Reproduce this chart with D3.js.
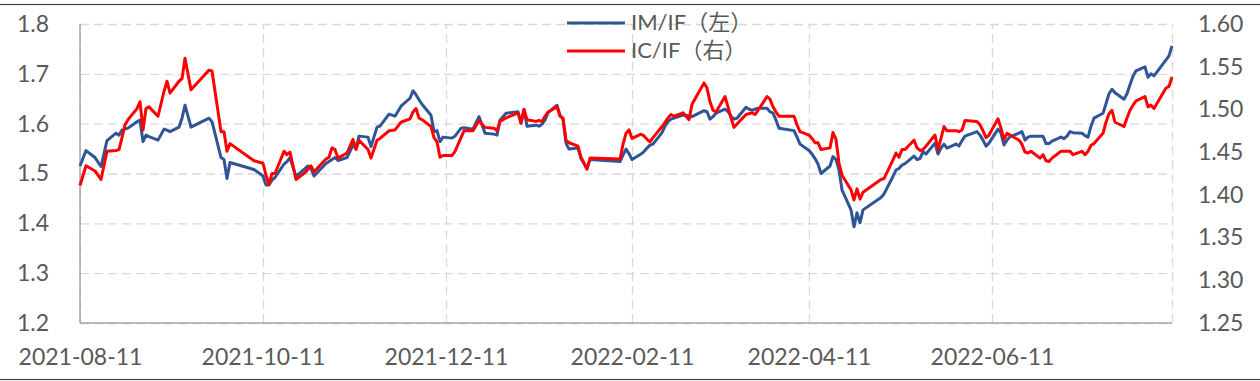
<!DOCTYPE html>
<html>
<head>
<meta charset="utf-8">
<script src="https://cdn.jsdelivr.net/npm/d3@7"></script>
<style>
  body { margin: 0; background: #fff; }
  svg { display: block; }
  .tick text { font-family: Lato, "Noto Sans", sans-serif; font-size: 23px; fill: #595959; }
  .legend text { font-family: Lato, "Noto Sans CJK SC", sans-serif; font-size: 22px; fill: #595959; }
</style>
</head>
<body>
<script>
// trading dates
var dates = [
  "2021-08-11","2021-08-13","2021-08-16","2021-08-18","2021-08-20","2021-08-23","2021-08-24","2021-08-25","2021-08-26","2021-08-27","2021-08-30","2021-08-31",
  "2021-09-01","2021-09-02","2021-09-03","2021-09-06","2021-09-08","2021-09-09","2021-09-10","2021-09-13","2021-09-14","2021-09-15","2021-09-17","2021-09-23","2021-09-24","2021-09-27","2021-09-28","2021-09-29","2021-09-30",
  "2021-10-08","2021-10-11","2021-10-12","2021-10-13","2021-10-14","2021-10-15","2021-10-18","2021-10-19","2021-10-20","2021-10-22","2021-10-25","2021-10-26","2021-10-27","2021-10-28",
  "2021-11-01","2021-11-02","2021-11-03","2021-11-04","2021-11-05","2021-11-08","2021-11-10","2021-11-11","2021-11-12","2021-11-15","2021-11-16","2021-11-18","2021-11-19","2021-11-22","2021-11-24","2021-11-26","2021-11-29","2021-11-30",
  "2021-12-01","2021-12-02","2021-12-03","2021-12-06","2021-12-07","2021-12-08","2021-12-09","2021-12-10","2021-12-13","2021-12-14","2021-12-16","2021-12-17","2021-12-20","2021-12-22","2021-12-24","2021-12-27","2021-12-28","2021-12-29","2021-12-31",
  "2022-01-04","2022-01-05","2022-01-06","2022-01-07","2022-01-10","2022-01-11","2022-01-12","2022-01-13","2022-01-14","2022-01-17","2022-01-18","2022-01-19","2022-01-20","2022-01-21","2022-01-24","2022-01-25","2022-01-26","2022-01-27","2022-01-28",
  "2022-02-07","2022-02-08","2022-02-09","2022-02-10","2022-02-11","2022-02-14","2022-02-15","2022-02-16","2022-02-17","2022-02-18","2022-02-21","2022-02-22","2022-02-23","2022-02-24","2022-02-25","2022-02-28",
  "2022-03-01","2022-03-02","2022-03-03","2022-03-07","2022-03-08","2022-03-09","2022-03-10","2022-03-11","2022-03-14","2022-03-15","2022-03-16","2022-03-17","2022-03-18","2022-03-21","2022-03-22","2022-03-23","2022-03-24","2022-03-25","2022-03-28","2022-03-29","2022-03-30","2022-03-31",
  "2022-04-01","2022-04-06","2022-04-07","2022-04-08","2022-04-11","2022-04-12","2022-04-13","2022-04-14","2022-04-15","2022-04-18","2022-04-19","2022-04-20","2022-04-21","2022-04-22","2022-04-25","2022-04-26","2022-04-27","2022-04-28","2022-04-29",
  "2022-05-05","2022-05-06","2022-05-09","2022-05-10","2022-05-11","2022-05-12","2022-05-13","2022-05-16","2022-05-17","2022-05-18","2022-05-19","2022-05-20","2022-05-23","2022-05-24","2022-05-25","2022-05-26","2022-05-27","2022-05-30","2022-05-31",
  "2022-06-01","2022-06-02","2022-06-06","2022-06-07","2022-06-08","2022-06-09","2022-06-10","2022-06-13","2022-06-14","2022-06-15","2022-06-16","2022-06-17","2022-06-20","2022-06-21","2022-06-22","2022-06-23","2022-06-24","2022-06-27","2022-06-28","2022-06-29","2022-06-30",
  "2022-07-01","2022-07-04","2022-07-05","2022-07-06","2022-07-07","2022-07-08","2022-07-11","2022-07-12","2022-07-13","2022-07-14","2022-07-15","2022-07-18","2022-07-19","2022-07-20","2022-07-21","2022-07-22","2022-07-25","2022-07-26","2022-07-27","2022-07-28","2022-07-29",
  "2022-08-01","2022-08-02","2022-08-03","2022-08-04","2022-08-08","2022-08-09","2022-08-10"
];

// IM/IF ratio, left axis
var imif = [
  1.515,1.546,1.532,1.514,1.566,1.581,1.577,1.587,1.589,1.591,1.604,1.607,
  1.564,1.577,1.574,1.567,1.589,1.587,1.584,1.593,1.611,1.637,1.593,1.611,1.604,1.532,1.528,1.490,1.522,
  1.508,1.495,1.477,1.477,1.487,1.492,1.519,1.524,1.532,1.494,1.510,1.515,1.510,1.495,
  1.520,1.524,1.528,1.532,1.526,1.532,1.557,1.551,1.575,1.573,1.554,1.593,1.595,1.619,1.615,1.635,1.651,1.666,
  1.658,1.648,1.639,1.617,1.584,1.586,1.564,1.573,1.571,1.575,1.591,1.592,1.589,1.614,1.581,1.579,1.577,1.607,1.621,
  1.624,1.601,1.629,1.595,1.597,1.595,1.599,1.607,1.622,1.637,1.617,1.609,1.561,1.549,1.551,1.530,1.520,1.510,1.528,
  1.524,1.537,1.549,1.540,1.528,1.539,1.544,1.551,1.557,1.559,1.582,1.595,1.604,1.609,1.611,1.617,
  1.617,1.615,1.614,1.626,1.624,1.609,1.614,1.621,1.629,1.624,1.615,1.609,1.611,1.633,1.629,1.627,1.629,1.631,1.631,1.624,1.621,1.607,
  1.591,1.586,1.573,1.559,1.546,1.539,1.530,1.519,1.500,1.515,1.534,1.528,1.507,1.467,1.427,1.393,1.421,1.401,1.427,
  1.452,1.459,1.494,1.507,1.510,1.517,1.520,1.535,1.528,1.530,1.544,1.539,1.561,1.539,1.551,1.559,1.551,1.559,1.555,
  1.566,1.575,1.584,1.577,1.567,1.555,1.561,1.589,1.581,1.557,1.567,1.574,1.581,1.584,1.567,1.573,1.575,1.575,1.575,1.560,1.560,
  1.565,1.573,1.570,1.575,1.584,1.582,1.581,1.576,1.573,1.595,1.611,1.621,1.640,1.660,1.669,1.662,1.649,1.660,1.678,1.695,1.706,
  1.714,1.693,1.700,1.696,1.728,1.736,1.756
];

// IC/IF ratio, right axis
var icif = [
  1.411,1.434,1.428,1.418,1.451,1.452,1.453,1.467,1.482,1.488,1.501,1.509,
  1.476,1.501,1.503,1.492,1.521,1.533,1.519,1.533,1.536,1.560,1.523,1.546,1.545,1.474,1.474,1.451,1.460,
  1.440,1.437,1.423,1.412,1.425,1.425,1.451,1.447,1.450,1.418,1.426,1.430,1.434,1.427,
  1.442,1.444,1.455,1.453,1.443,1.449,1.465,1.453,1.464,1.453,1.443,1.464,1.466,1.475,1.476,1.485,1.489,1.497,
  1.501,1.490,1.488,1.480,1.467,1.462,1.444,1.446,1.446,1.451,1.467,1.475,1.475,1.487,1.479,1.478,1.475,1.486,1.490,
  1.496,1.484,1.500,1.488,1.486,1.487,1.486,1.492,1.497,1.503,1.492,1.490,1.464,1.461,1.457,1.444,1.437,1.430,1.443,
  1.442,1.459,1.472,1.476,1.466,1.471,1.469,1.465,1.462,1.467,1.480,1.485,1.490,1.494,1.492,1.496,
  1.492,1.488,1.506,1.531,1.525,1.509,1.499,1.497,1.515,1.503,1.490,1.479,1.483,1.494,1.495,1.496,1.494,1.499,1.515,1.512,1.503,1.497,
  1.492,1.492,1.482,1.474,1.470,1.466,1.461,1.461,1.453,1.455,1.473,1.465,1.437,1.423,1.406,1.394,1.407,1.395,1.403,
  1.418,1.419,1.441,1.449,1.444,1.453,1.453,1.464,1.455,1.452,1.453,1.457,1.470,1.453,1.466,1.480,1.475,1.475,1.474,
  1.476,1.487,1.486,1.482,1.475,1.467,1.470,1.489,1.478,1.465,1.472,1.470,1.464,1.459,1.450,1.449,1.451,1.443,1.447,1.440,1.439,
  1.443,1.451,1.451,1.451,1.451,1.447,1.451,1.447,1.451,1.458,1.460,1.472,1.485,1.495,1.499,1.485,1.480,1.490,1.499,1.505,1.510,
  1.515,1.503,1.505,1.501,1.525,1.527,1.538
];

var xTickLabels = ["2021-08-11", "2021-10-11", "2021-12-11", "2022-02-11", "2022-04-11", "2022-06-11"];
var leftTicks = [1.2, 1.3, 1.4, 1.5, 1.6, 1.7, 1.8];
var rightTicks = [1.25, 1.30, 1.35, 1.40, 1.45, 1.50, 1.55, 1.60];
var seriesNames = ["IM/IF（左）", "IC/IF（右）"];
var seriesColors = ["#2f5597", "#ff0000"];

var w = 1260;
var h = 381;
var plot = { left: 80, right: 1172, top: 24, bottom: 323 };

var parse = d3.utcParse("%Y-%m-%d");
var days = dates.map(parse);

var svg = d3.select("body")
  .append("svg")
  .attr("width", w)
  .attr("height", h);

// outer frame (only top and bottom edges show)
svg.append("rect")
  .attr("x", -2)
  .attr("y", 4.5)
  .attr("width", w + 4)
  .attr("height", 375)
  .attr("fill", "none")
  .attr("stroke", "#404040")
  .attr("stroke-width", 1.2);

// scales
var xScale = d3.scaleUtc()
  .domain([days[0], days[days.length - 1]])
  .range([plot.left, plot.right]);

var yLeft = d3.scaleLinear()
  .domain([1.2, 1.8])
  .range([plot.bottom, plot.top]);

var yRight = d3.scaleLinear()
  .domain([1.25, 1.60])
  .range([plot.bottom, plot.top]);

var xTicks = xTickLabels.map(parse);

// dashed grid lines
var hGrid = svg.append("g")
  .attr("transform", "translate(" + plot.left + ",0)")
  .call(d3.axisLeft(yLeft).tickValues(leftTicks).tickSize(-(plot.right - plot.left)).tickFormat(""));

var vGrid = svg.append("g")
  .attr("transform", "translate(0," + plot.bottom + ")")
  .call(d3.axisBottom(xScale).tickValues(xTicks.concat([xScale.domain()[1]])).tickSize(-(plot.bottom - plot.top)).tickFormat(""));

[hGrid, vGrid].forEach(function(g) {
  g.select(".domain").remove();
  g.selectAll("line")
    .attr("stroke", "#d9d9d9")
    .attr("stroke-width", 1.3)
    .attr("stroke-dasharray", "9,5");
});

// solid axis lines
svg.append("line")
  .attr("x1", plot.left).attr("x2", plot.left)
  .attr("y1", plot.top).attr("y2", plot.bottom)
  .attr("stroke", "#a6a6a6").attr("stroke-width", 1.5);
svg.append("line")
  .attr("x1", plot.left).attr("x2", plot.right)
  .attr("y1", plot.bottom).attr("y2", plot.bottom)
  .attr("stroke", "#a6a6a6").attr("stroke-width", 1.5);

// tick labels
var leftAxis = svg.append("g")
  .attr("transform", "translate(" + plot.left + ",0)")
  .call(d3.axisLeft(yLeft).tickValues(leftTicks).tickFormat(d3.format(".1f")).tickSize(0).tickPadding(31));

var rightAxis = svg.append("g")
  .attr("transform", "translate(" + plot.right + ",0)")
  .call(d3.axisRight(yRight).tickValues(rightTicks).tickFormat(d3.format(".2f")).tickSize(0).tickPadding(26));

var xAxis = svg.append("g")
  .attr("transform", "translate(0," + plot.bottom + ")")
  .call(d3.axisBottom(xScale).tickValues(xTicks).tickFormat(d3.utcFormat("%Y-%m-%d")).tickSize(0).tickPadding(26));

[leftAxis, rightAxis, xAxis].forEach(function(g) {
  g.select(".domain").remove();
  g.attr("font-family", null).attr("font-size", null);
});

// the two lines
var lineLeft = d3.line()
  .x(function(d, i) { return xScale(days[i]); })
  .y(function(d) { return yLeft(d); });

var lineRight = d3.line()
  .x(function(d, i) { return xScale(days[i]); })
  .y(function(d) { return yRight(d); });

svg.append("path")
  .datum(imif)
  .attr("d", lineLeft)
  .attr("fill", "none")
  .attr("stroke", seriesColors[0])
  .attr("stroke-width", 3)
  .attr("stroke-linejoin", "round");

svg.append("path")
  .datum(icif)
  .attr("d", lineRight)
  .attr("fill", "none")
  .attr("stroke", seriesColors[1])
  .attr("stroke-width", 3)
  .attr("stroke-linejoin", "round");

// legend
var legend = svg.append("g").attr("class", "legend");
seriesNames.forEach(function(name, i) {
  var y = 23 + i * 28;
  legend.append("line")
    .attr("x1", 567).attr("x2", 625)
    .attr("y1", y).attr("y2", y)
    .attr("stroke", seriesColors[i])
    .attr("stroke-width", 3);
  legend.append("text")
    .attr("x", 631)
    .attr("y", y + 7)
    .text(name);
});
</script>
</body>
</html>
